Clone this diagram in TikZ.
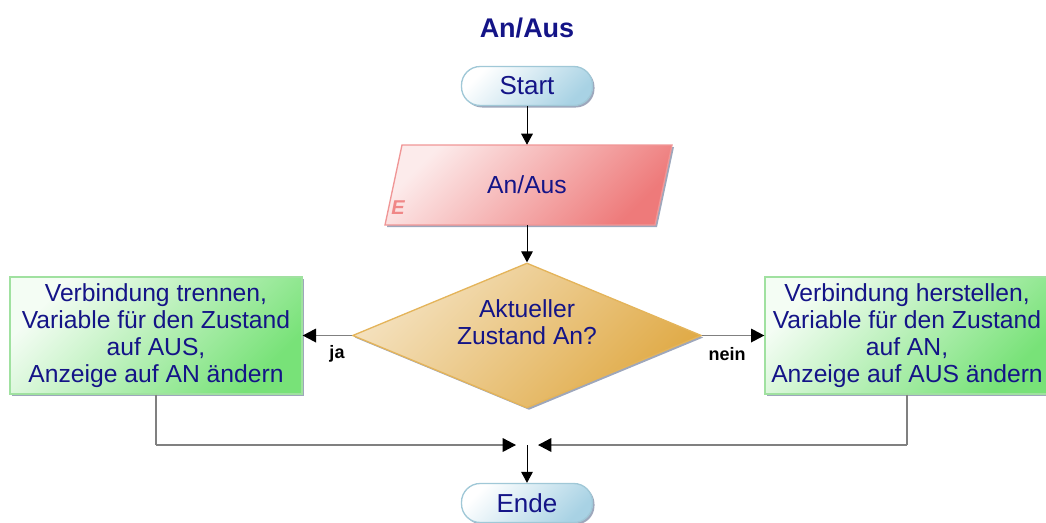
\documentclass[tikz,border=0pt]{standalone}
\usepackage{fontspec}
\setmainfont{Liberation Sans}
\usetikzlibrary{arrows.meta,shapes.geometric,shadows}

% colours of the flowchart
\definecolor{ink}{RGB}{20,20,135}
\definecolor{termfill}{RGB}{168,210,228}
\definecolor{termline}{RGB}{160,200,215}
\definecolor{iofill}{RGB}{238,122,122}
\definecolor{ioline}{RGB}{240,150,150}
\definecolor{ioletter}{RGB}{240,135,135}
\definecolor{decfill}{RGB}{224,170,70}
\definecolor{decline}{RGB}{228,180,90}
\definecolor{procfill}{RGB}{120,226,120}
\definecolor{procline}{RGB}{160,225,160}
\definecolor{conn}{RGB}{128,128,128}
\definecolor{shadowc}{RGB}{125,138,165}

\def\pxu{0.75pt}

\tikzset{
  softshadow/.style={drop shadow={shadow xshift=1.5pt, shadow yshift=-1.5pt,
      fill=shadowc, opacity=0.75}},
  gradfill/.style 2 args={top color=#1, bottom color=#2, shading angle=45},
  terminal/.style={rectangle, rounded corners=14pt, draw=termline, line width=1pt,
      gradfill={white}{termfill}, softshadow,
      minimum width=131*\pxu, minimum height=39*\pxu, inner sep=0pt,
      text=ink, font=\fontsize{19.5}{22}\selectfont},
  process/.style={rectangle, draw=procline, line width=1pt,
      gradfill={white!92!procfill}{procfill}, softshadow,
      minimum height=117*\pxu, inner sep=0pt, align=center,
      text=ink, font=\fontsize{18.5}{20.25}\selectfont},
  decision/.style={diamond, draw=decline, line width=1pt,
      gradfill={white!65!decfill}{decfill}, softshadow,
      minimum width=349*\pxu, minimum height=145*\pxu, inner sep=0pt},
  iobox/.style={draw=ioline, line width=1pt, gradfill={white!85!iofill}{iofill}, softshadow},
  plain/.style={text=ink, align=center, inner sep=0pt},
  lbl/.style={font=\bfseries\fontsize{13.5}{16}\selectfont, inner sep=0pt},
  flow/.style={draw=black, line width=0.75pt,
      -{Triangle[length=8.25pt, width=8.75pt, color=black]}},
  wire/.style={draw=conn, line width=1pt},
  link/.style={wire, -{Triangle[length=10pt, width=10.25pt, color=black]}},
}

\begin{document}
\begin{tikzpicture}[x=0.75pt, y=-0.75pt]
  \useasboundingbox (0,0) rectangle (1046,522);

  % title
  \node[plain, font=\bfseries\fontsize{20.25}{24}\selectfont] (title) at (527,28) {An/Aus};

  % start terminal
  \node[terminal] (start) at (527,86) {Start};

  % input parallelogram
  \path[iobox] (402,145) -- (672,145) -- (655,225) -- (385,225) -- cycle;
  \node[plain, minimum width=250*\pxu, minimum height=80*\pxu,
        font=\fontsize{18.5}{21}\selectfont] (io) at (527,185) {An/Aus};
  \node[text=ioletter, inner sep=0pt,
        font=\bfseries\itshape\fontsize{15}{15}\selectfont] (ioflag) at (398,208) {E};

  % decision
  \node[decision] (dia) at (527,335.5) {};
  \node[plain, font=\fontsize{18.5}{20.25}\selectfont] (dq) at (527,322)
       {Aktueller\\Zustand An?};

  % the two branches
  \node[process, minimum width=292*\pxu] (L) at (156,335.5)
       {Verbindung trennen,\\Variable für den Zustand\\auf AUS,\\Anzeige auf AN ändern};
  \node[process, minimum width=284*\pxu] (R) at (907,335.5)
       {Verbindung herstellen,\\Variable für den Zustand\\auf AN,\\Anzeige auf AUS ändern};

  % end terminal
  \node[terminal] (ende) at (527,503) {Ende};

  % main flow
  \draw[flow] (start) -- (io.north);
  \draw[flow] (io.south) -- (dia.north);

  % branches out of the decision
  \draw[link] (dia.west) -- (L.east);
  \node[lbl] (ja) at (337,354) {ja};
  \draw[link] (dia.east) -- (R.west);
  \node[lbl] (nein) at (727,354) {nein};

  % merging back
  \coordinate (m) at (527,445);
  \coordinate (lc) at (L.south |- m);
  \coordinate (rc) at (R.south |- m);
  \coordinate (ml) at (516,445);
  \coordinate (mr) at (538,445);
  \draw[wire] (L.south) -- (lc);
  \draw[wire] (R.south) -- (rc);
  \draw[link] (lc) -- (ml);
  \draw[link] (rc) -- (mr);
  \draw[flow] (m) -- (ende);
\end{tikzpicture}
\end{document}
